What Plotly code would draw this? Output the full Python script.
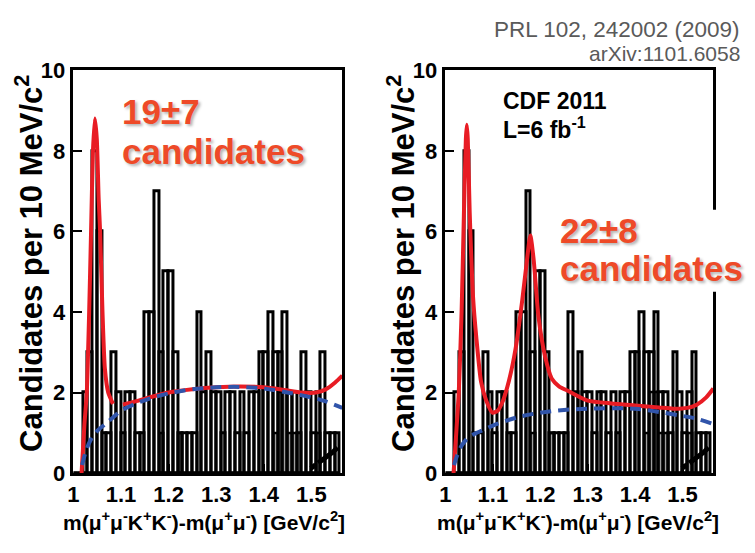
import plotly.graph_objects as go

# ---------------- data ----------------
bin_lo = 1.0
bin_w = 0.01
counts = [0, 0, 2, 3, 8, 6, 1, 1, 3, 2,
          1, 2, 2, 1, 1, 4, 4, 7, 3, 5,
          5, 3, 1, 1, 1, 1, 4, 2, 3, 2,
          2, 1, 2, 2, 1, 2, 1, 2, 2, 3,
          3, 4, 3, 3, 4, 2, 2, 1, 3, 2,
          1, 2, 3, 1, 1, 1]
gray_counts = [0, 0, 0, 0, 0, 0, 0, 0, 0, 0,
               0, 0, 0, 0, 0, 0, 0, 0, 1, 0,
               0, 0, 1, 0, 0, 0, 0, 0, 0, 0,
               0, 0, 0, 0, 0, 0, 0, 0, 0, 0,
               0, 0, 1, 2, 2, 1, 1, 0, 0, 0,
               0, 1, 0, 0, 0, 0]
bin_centers = [round(bin_lo + bin_w * (i + 0.5), 4) for i in range(len(counts))]

# left fit (signal+background), two pieces separated by a gap
fitL_x = [1.017, 1.023, 1.028, 1.033, 1.037, 1.041, 1.045, 1.049, 1.053, 1.056,
          1.061, 1.066, 1.073, 1.083, None,
          1.104, 1.13, 1.16, 1.2, 1.25, 1.3, 1.35, 1.4, 1.44, 1.48, 1.51, 1.53, 1.55, 1.565]
fitL_y = [0.0, 1.2, 2.0, 4.0, 6.0, 8.0, 8.8, 8.3, 6.8, 6.0,
          4.0, 2.6, 2.0, 1.72, None,
          1.70, 1.78, 1.88, 2.0, 2.08, 2.13, 2.15, 2.13, 2.07, 2.0, 2.0, 2.08, 2.25, 2.42]
bkgL_x = [1.018, 1.025, 1.035, 1.05, 1.065, 1.08, 1.1, 1.13, 1.16, 1.2,
          1.25, 1.3, 1.35, 1.4, 1.45, 1.5, 1.53, 1.565]
bkgL_y = [0.2, 0.5, 0.8, 1.05, 1.2, 1.35, 1.55, 1.72, 1.85, 1.98,
          2.08, 2.13, 2.14, 2.1, 2.0, 1.88, 1.78, 1.62]

# right fit with two peaks
fitR_x = [1.017, 1.028, 1.034, 1.039, 1.043, 1.045, 1.047, 1.051, 1.054, 1.058,
          1.065, 1.075, 1.086, 1.099, 1.11, 1.12, 1.134, 1.148, 1.162, 1.172,
          1.179, 1.186, 1.196, 1.21, 1.224, 1.24, 1.259, 1.3, 1.35, 1.4,
          1.45, 1.48, 1.51, 1.53, 1.55, 1.565]
fitR_y = [0.0, 2.0, 4.0, 6.5, 8.3, 8.65, 8.3, 6.5, 5.5, 4.4,
          3.37, 2.27, 1.8, 1.5, 1.55, 1.76, 2.3, 3.1, 4.3, 5.3,
          5.9, 5.3, 3.9, 2.9, 2.35, 2.15, 2.04, 1.8, 1.73, 1.68,
          1.63, 1.6, 1.62, 1.7, 1.88, 2.1]
bkgR_x = [1.018, 1.025, 1.035, 1.05, 1.07, 1.1, 1.15, 1.2, 1.25, 1.3,
          1.35, 1.4, 1.45, 1.5, 1.53, 1.565]
bkgR_y = [0.2, 0.45, 0.7, 0.9, 1.02, 1.18, 1.38, 1.5, 1.57, 1.6,
          1.61, 1.6, 1.52, 1.42, 1.35, 1.22]

# short black dashed curve at high mass
tail_x = [1.499, 1.515, 1.53, 1.545, 1.555]
tail_y = [0.12, 0.25, 0.38, 0.52, 0.64]

x_ticks = [1.0, 1.1, 1.2, 1.3, 1.4, 1.5]
x_ticktext = ["1", "1.1", "1.2", "1.3", "1.4", "1.5"]
y_ticks = [0, 2, 4, 6, 8, 10]

# ---------------- styles ----------------
W, H = 755, 553
RED = "rgb(232,28,36)"
BLUE = "rgb(48,84,170)"
TXT_RED = "rgb(238,74,40)"
GRAY = "rgb(160,160,160)"
SANS = "Liberation Sans, Arial, Helvetica, sans-serif"

def px_x(p):
    return p / W

def px_y(p):
    return 1 - p / H

panels = [
    dict(xa="x", ya="y", fit=(fitL_x, fitL_y), bkg=(bkgL_x, bkgL_y)),
    dict(xa="x2", ya="y2", fit=(fitR_x, fitR_y), bkg=(bkgR_x, bkgR_y)),
]

fig = go.Figure()
for p in panels:
    fig.add_trace(go.Bar(x=bin_centers, y=gray_counts, width=bin_w,
                         marker=dict(color=GRAY, line=dict(color="black", width=2.4)),
                         xaxis=p["xa"], yaxis=p["ya"], showlegend=False))
    fig.add_trace(go.Bar(x=bin_centers, y=counts, width=bin_w,
                         marker=dict(color="rgba(0,0,0,0)", line=dict(color="black", width=3)),
                         xaxis=p["xa"], yaxis=p["ya"], showlegend=False))
    fig.add_trace(go.Scatter(x=p["fit"][0], y=p["fit"][1], mode="lines",
                             line=dict(color=RED, width=4, shape="spline", smoothing=0.6),
                             connectgaps=False, xaxis=p["xa"], yaxis=p["ya"], showlegend=False))
    fig.add_trace(go.Scatter(x=p["bkg"][0], y=p["bkg"][1], mode="lines",
                             line=dict(color=BLUE, width=4, dash="11px,7px", shape="spline"),
                             xaxis=p["xa"], yaxis=p["ya"], showlegend=False))
    fig.add_trace(go.Scatter(x=tail_x, y=tail_y, mode="lines",
                             line=dict(color="black", width=5, dash="6px,3px,40px"),
                             xaxis=p["xa"], yaxis=p["ya"], showlegend=False))

axis_common = dict(showline=True, linecolor="black", linewidth=2.5, mirror=True,
                   ticks="inside", ticklen=9, tickwidth=2, tickcolor="black",
                   showgrid=False, zeroline=False,
                   tickfont=dict(family=SANS, size=22, color="black", weight="bold"))
ydom = [px_y(483), px_y(61)]
fig.update_layout(
    width=W, height=H, margin=dict(l=0, r=0, t=0, b=0),
    paper_bgcolor="white", plot_bgcolor="white",
    barmode="overlay", bargap=0, showlegend=False,
    xaxis=dict(domain=[px_x(68), px_x(339)], range=[1.0, 1.565], anchor="y",
               tickvals=x_ticks, ticktext=x_ticktext, **axis_common),
    yaxis=dict(domain=ydom, range=[0, 10], anchor="x", tickvals=y_ticks,
               ticklabelstandoff=1, **axis_common),
    xaxis2=dict(domain=[px_x(443), px_x(713)], range=[1.0, 1.565], anchor="y2",
                tickvals=x_ticks, ticktext=x_ticktext, **axis_common),
    yaxis2=dict(domain=ydom, range=[0, 10], anchor="x2", tickvals=y_ticks,
                ticklabelstandoff=1, **axis_common),
)

# white patch interrupting the right frame behind the text
fig.add_shape(type="rect", xref="paper", yref="paper",
              x0=px_x(700), x1=px_x(755), y0=px_y(293), y1=px_y(207),
              fillcolor="white", line=dict(width=0), layer="above")

ann = []
shadow = "2px 2px 3px rgba(0,0,0,0.30)"
def add_text(text, x, y, size, color, family=SANS, xanchor="left", weight="bold",
             angle=0, sh="none"):
    ann.append(dict(text=text, x=px_x(x), y=px_y(y), xref="paper", yref="paper",
                    xanchor=xanchor, yanchor="middle", showarrow=False, textangle=angle,
                    font=dict(family=family, size=size, color=color, weight=weight, shadow=sh)))

add_text("19±7", 115, 104, 35, TXT_RED, sh=shadow)
add_text("candidates", 115, 146, 35, TXT_RED, sh=shadow)
add_text("22±8", 556, 229, 35, TXT_RED, sh=shadow)
add_text("candidates", 556, 269, 35, TXT_RED, sh=shadow)
add_text("CDF 2011", 499, 93, 23, "black")
add_text("L=6 fb<sup>-1</sup>", 499, 122, 23, "black")
add_text("PRL 102, 242002 (2009)", 742, 18, 22.5, "rgb(90,90,90)", xanchor="right", weight="normal")
add_text("arXiv:1101.6058", 742, 43, 21, "rgb(90,90,90)", xanchor="right", weight="normal")

ytitle = "Candidates per 10 MeV/c<sup>2</sup>"
add_text(ytitle, 23, 263, 31, "black", xanchor="center", angle=-90)
add_text(ytitle, 398, 263, 31, "black", xanchor="center", angle=-90)
xtitle = "m(μ<sup>+</sup>μ<sup>-</sup>K<sup>+</sup>K<sup>-</sup>)-m(μ<sup>+</sup>μ<sup>-</sup>) [GeV/c<sup>2</sup>]"
add_text(xtitle, 200, 533, 21, "black", xanchor="center")
add_text(xtitle, 577, 533, 21, "black", xanchor="center")

fig.update_layout(annotations=ann)
fig.write_html("out.html")
